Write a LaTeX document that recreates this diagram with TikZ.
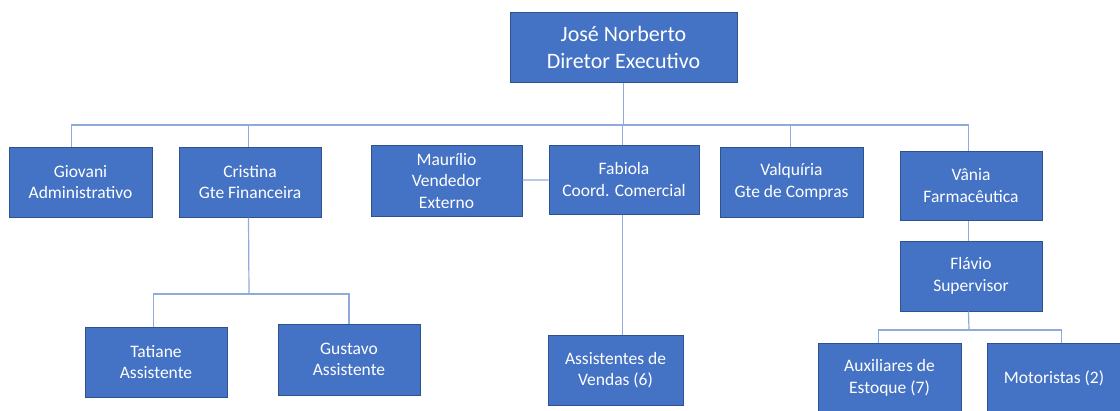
\documentclass[tikz,border=0pt]{standalone}
\usepackage{fontspec}
\setmainfont{Carlito}
\usetikzlibrary{positioning}
\definecolor{boxblue}{HTML}{4472C4}
\definecolor{boxline}{HTML}{2F528F}
\definecolor{linkblue}{RGB}{143,170,220}

\begin{document}
\begin{tikzpicture}[
        x=1pt, y=-1pt,
        box/.style={rectangle, draw=boxline, line width=1pt, fill=boxblue, text=white, align=center, inner sep=0pt, minimum width=143pt, minimum height=70pt, font=\fontsize{17.5}{21.5}\selectfont},
        link/.style={draw=linkblue, line width=1.2pt}
        ]
        \useasboundingbox (0,0) rectangle (1120,410);

        \node[box, minimum width=227pt, font=\fontsize{22}{27}\selectfont] (ceo) at (623.5,47) {José Norberto\\Diretor Executivo};
        \node[box] (giovani) at (80.5,182) {Giovani\\Administrativo};
        \node[box, minimum width=142pt] (cristina) at (250,182) {Cristina\\Gte Financeira};
        \node[box, minimum width=151pt, minimum height=71pt] (maurilio) at (446.5,180.5) {Maurílio\\Vendedor\\Externo};
        \node[box, minimum width=150pt, minimum height=69pt] (fabiola) at (624,179.5) {Fabiola\\Coord. Comercial};
        \node[box] (valquiria) at (791.5,182) {Valquíria\\Gte de Compras};
        \node[box, minimum width=142pt, minimum height=69pt] (vania) at (971,185.5) {Vânia\\Farmacêutica};
        \node[box, minimum width=142pt] (flavio) at (971,276) {Flávio\\Supervisor};
        \node[box, minimum width=142pt] (tatiane) at (156,362) {Tatiane\\Assistente};
        \node[box, minimum width=142pt, minimum height=71pt] (gustavo) at (349,359.5) {Gustavo\\Assistente};
        \node[box, minimum width=135pt] (assist) at (615.5,370) {Assistentes de\\Vendas (6)};
        \node[box] (auxiliares) at (889.5,378) {Auxiliares de\\Estoque (7)};
        \node[box, minimum width=134pt] (motoristas) at (1054,378) {Motoristas (2)};

        \coordinate (hub) at (623,125);
        \coordinate (cristinahub) at (249,294);
        \coordinate (flaviohub) at (969,330);

        \draw[link] (ceo) -- (ceo |- hub);
        \draw[link] ([xshift=63pt]giovani.north west) |- (hub) -| ([xshift=69pt]vania.north west);
        \draw[link] ([xshift=70pt]cristina.north west) -- ([xshift=70pt]cristina.north west |- hub);
        \draw[link] ([xshift=74pt]fabiola.north west) -- ([xshift=74pt]fabiola.north west |- hub);
        \draw[link] ([xshift=71pt]valquiria.north west) -- ([xshift=71pt]valquiria.north west |- hub);
        \draw[link] (maurilio) -- (fabiola);
        \draw[link] ([xshift=70pt]cristina.south west) -- (cristinahub);
        \draw[link] ([xshift=69pt]tatiane.north west) |- (cristinahub) -| (gustavo.north);
        \draw[link] ([xshift=74pt]fabiola.south west) -- ([xshift=74pt]fabiola.south west |- assist.north);
        \draw[link] ([xshift=69pt]vania.south west) -- ([xshift=69pt]flavio.north west);
        \draw[link] ([xshift=69pt]flavio.south west) -- (flaviohub);
        \draw[link] ([xshift=61pt]auxiliares.north west) |- (flaviohub) -| ([xshift=75pt]motoristas.north west);
    \end{tikzpicture}
\end{document}
